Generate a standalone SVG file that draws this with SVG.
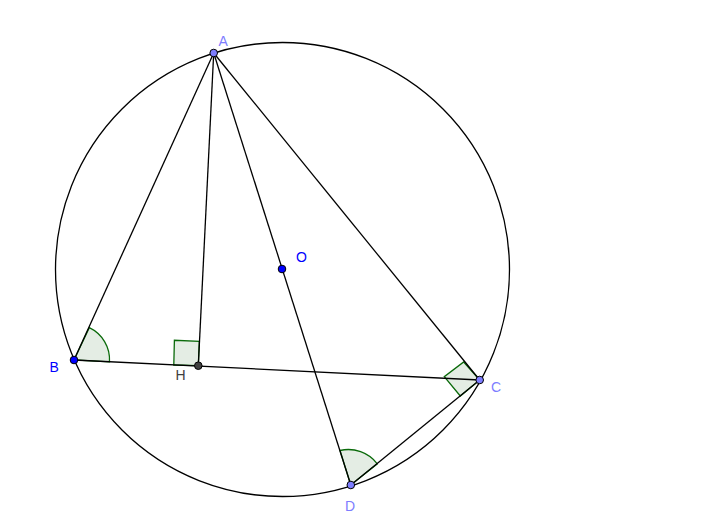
<svg xmlns="http://www.w3.org/2000/svg" width="720" height="525" viewBox="0 0 720 525">
<style>
.ln{fill:none;stroke:#000;stroke-width:1.3}
.mk{fill:#e4ede4;stroke:#0a6a0a;stroke-width:1.3}
.pt{stroke:#000;stroke-width:1}
.lb{font-family:"Liberation Sans",Arial,sans-serif;font-size:14px;stroke:none}
.free{fill:#7d7dff}
.dep{fill:#0000ff}
</style>
<rect width="720" height="525" fill="#fff"/>
<g id="angle-marks">
<path class="mk" d="M74 360L89.3 327.7A35.6 35.6 0 0 1 109.5 361.8Z"/>
<path class="mk" d="M198.3 365.7L173.8 365L174.4 340.3L199.3 341.3Z"/>
<path class="mk" d="M479.7 380L463.7 362L444.3 376.7L460.3 396Z"/>
<path class="mk" d="M350.8 485L340 450.5A36.5 36.5 0 0 1 377.3 463.8Z"/>
</g>
<g id="connectors">
<circle class="ln" cx="282.5" cy="269.5" r="227"/>
<line class="ln" x1="213.7" y1="53" x2="74" y2="360"/>
<line class="ln" x1="213.7" y1="53" x2="198.3" y2="365.7"/>
<line class="ln" x1="213.7" y1="53" x2="350.8" y2="485"/>
<line class="ln" x1="213.7" y1="53" x2="479.7" y2="380"/>
<line class="ln" x1="74" y1="360" x2="479.7" y2="380"/>
<line class="ln" x1="479.7" y1="380" x2="350.8" y2="485"/>
</g>
<g id="node-A"><circle class="pt free" cx="213.7" cy="53" r="3.8"/><text class="lb free" x="218.5" y="46">A</text></g>
<g id="node-B"><circle class="pt dep" cx="74" cy="360" r="3.8"/><text class="lb dep" x="49.5" y="372">B</text></g>
<g id="node-C"><circle class="pt free" cx="479.7" cy="380" r="3.8"/><text class="lb free" x="491" y="392">C</text></g>
<g id="node-D"><circle class="pt free" cx="350.8" cy="485" r="3.8"/><text class="lb free" x="345" y="511">D</text></g>
<g id="node-H"><circle class="pt" fill="#404040" cx="198.3" cy="365.7" r="3.8"/><text class="lb" fill="#404040" x="175.5" y="380">H</text></g>
<g id="node-O"><circle class="pt dep" cx="282" cy="269" r="3.8"/><text class="lb dep" x="296" y="262">O</text></g>
</svg>
